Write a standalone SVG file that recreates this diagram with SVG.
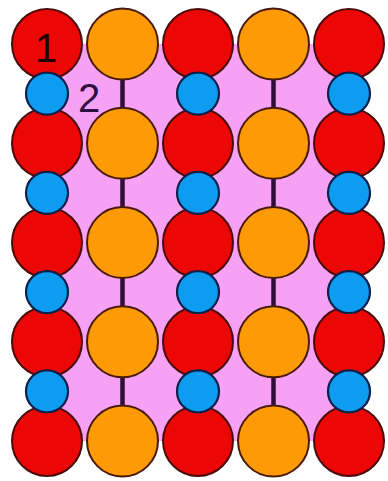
<svg xmlns="http://www.w3.org/2000/svg" width="388" height="481" viewBox="0 0 388 481">
<style>
.bg{fill:#f7a1f4;}
.r{fill:#ec0606;stroke:#4a0a0a;stroke-width:2;}
.o{fill:#fd9a05;stroke:#4a1a0a;stroke-width:2;}
.b{fill:#0d9cf0;stroke:#0a1f4a;stroke-width:2.2;}
.bond{stroke:#2e0f3a;stroke-width:4.5;}
.lbl{font-family:"Liberation Sans",Arial,sans-serif;font-size:40px;text-anchor:middle;}
</style>
<rect width="388" height="481" fill="#ffffff"/>
<rect class="bg" x="47" y="44" width="302" height="397"/>
<g id="connectors">
<line class="bond" x1="122.5" y1="44" x2="122.5" y2="441"/>
<line class="bond" x1="273.5" y1="44" x2="273.5" y2="441"/>
</g>
<g id="r00"><circle class="r" cx="47" cy="44" r="35"/></g>
<g id="o01"><circle class="o" cx="122.5" cy="44" r="35.5"/></g>
<g id="r02"><circle class="r" cx="198" cy="44" r="35"/></g>
<g id="o03"><circle class="o" cx="273.5" cy="44" r="35.5"/></g>
<g id="r04"><circle class="r" cx="349" cy="44" r="35"/></g>
<g id="r10"><circle class="r" cx="47" cy="143.25" r="35"/></g>
<g id="o11"><circle class="o" cx="122.5" cy="143.25" r="35.5"/></g>
<g id="r12"><circle class="r" cx="198" cy="143.25" r="35"/></g>
<g id="o13"><circle class="o" cx="273.5" cy="143.25" r="35.5"/></g>
<g id="r14"><circle class="r" cx="349" cy="143.25" r="35"/></g>
<g id="r20"><circle class="r" cx="47" cy="242.5" r="35"/></g>
<g id="o21"><circle class="o" cx="122.5" cy="242.5" r="35.5"/></g>
<g id="r22"><circle class="r" cx="198" cy="242.5" r="35"/></g>
<g id="o23"><circle class="o" cx="273.5" cy="242.5" r="35.5"/></g>
<g id="r24"><circle class="r" cx="349" cy="242.5" r="35"/></g>
<g id="r30"><circle class="r" cx="47" cy="341.75" r="35"/></g>
<g id="o31"><circle class="o" cx="122.5" cy="341.75" r="35.5"/></g>
<g id="r32"><circle class="r" cx="198" cy="341.75" r="35"/></g>
<g id="o33"><circle class="o" cx="273.5" cy="341.75" r="35.5"/></g>
<g id="r34"><circle class="r" cx="349" cy="341.75" r="35"/></g>
<g id="r40"><circle class="r" cx="47" cy="441" r="35"/></g>
<g id="o41"><circle class="o" cx="122.5" cy="441" r="35.5"/></g>
<g id="r42"><circle class="r" cx="198" cy="441" r="35"/></g>
<g id="o43"><circle class="o" cx="273.5" cy="441" r="35.5"/></g>
<g id="r44"><circle class="r" cx="349" cy="441" r="35"/></g>
<g id="b00"><circle class="b" cx="47" cy="93.6" r="21"/></g>
<g id="b02"><circle class="b" cx="198" cy="93.6" r="21"/></g>
<g id="b04"><circle class="b" cx="349" cy="93.6" r="21"/></g>
<g id="b10"><circle class="b" cx="47" cy="192.9" r="21"/></g>
<g id="b12"><circle class="b" cx="198" cy="192.9" r="21"/></g>
<g id="b14"><circle class="b" cx="349" cy="192.9" r="21"/></g>
<g id="b20"><circle class="b" cx="47" cy="292.1" r="21"/></g>
<g id="b22"><circle class="b" cx="198" cy="292.1" r="21"/></g>
<g id="b24"><circle class="b" cx="349" cy="292.1" r="21"/></g>
<g id="b30"><circle class="b" cx="47" cy="391.4" r="21"/></g>
<g id="b32"><circle class="b" cx="198" cy="391.4" r="21"/></g>
<g id="b34"><circle class="b" cx="349" cy="391.4" r="21"/></g>
<g id="labels">
<text class="lbl" x="46" y="62" fill="#1a0505">1</text>
<text class="lbl" x="89" y="112" fill="#2d1040">2</text>
</g>
</svg>
